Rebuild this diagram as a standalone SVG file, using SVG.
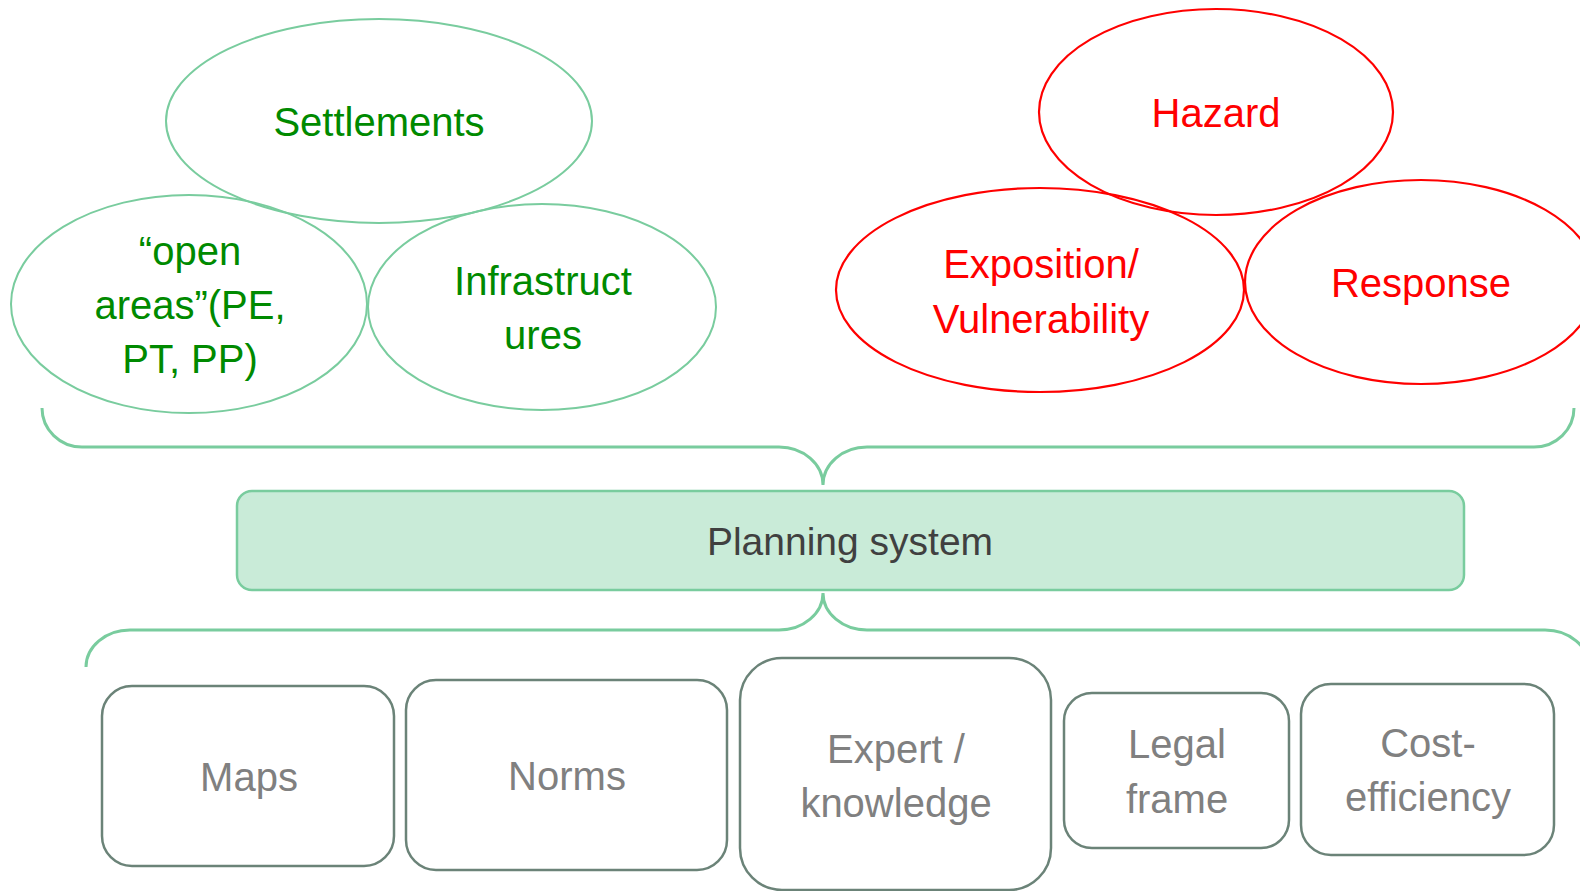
<svg xmlns="http://www.w3.org/2000/svg" width="1580" height="891" viewBox="0 0 1580 891">
<style>
.bg{fill:#ffffff}
.ge{fill:none;stroke:#79cc9e;stroke-width:2}
.re{fill:none;stroke:#ff0000;stroke-width:2.2}
.gt{font-family:"Liberation Sans",Arial,sans-serif;font-size:40px;fill:#008a00;text-anchor:middle}
.rt{font-family:"Liberation Sans",Arial,sans-serif;font-size:40px;fill:#ff0000;text-anchor:middle}
.bt{font-family:"Liberation Sans",Arial,sans-serif;font-size:40px;fill:#808080;text-anchor:middle}
.pt{font-family:"Liberation Sans",Arial,sans-serif;font-size:39px;fill:#404040;text-anchor:middle}
.box{fill:#ffffff;stroke:#6b8378;stroke-width:2.5}
.plan{fill:#c9ebd8;stroke:#79cc9e;stroke-width:2.5}
.br{fill:none;stroke:#79cc9e;stroke-width:3}
</style>
<rect class="bg" x="0" y="0" width="1580" height="891"/>
<g id="connectors">
<path class="br" d="M 42 408 A 40 39 0 0 0 82 447 L 779 447 A 44 38 0 0 1 823 485 A 44 38 0 0 1 867 447 L 1534 447 A 40 39 0 0 0 1574 408"/>
<path class="br" d="M 86 667 A 44 37 0 0 1 130 630 L 779 630 A 44 37 0 0 0 823 593 A 44 37 0 0 0 867 630 L 1545 630 A 44 37 0 0 1 1589 667"/>
</g>
<g id="settlements">
<ellipse class="ge" cx="379" cy="121" rx="213" ry="102"/>
<text class="gt" x="379" y="136">Settlements</text>
</g>
<g id="open-areas">
<ellipse class="ge" cx="189" cy="304" rx="178" ry="109"/>
<text class="gt" x="190" y="265">“open</text>
<text class="gt" x="190" y="319">areas”(PE,</text>
<text class="gt" x="190" y="373">PT, PP)</text>
</g>
<g id="infrastructures">
<ellipse class="ge" cx="542" cy="307" rx="174" ry="103"/>
<text class="gt" x="543" y="295">Infrastruct</text>
<text class="gt" x="543" y="349">ures</text>
</g>
<g id="hazard">
<ellipse class="re" cx="1216" cy="112" rx="177" ry="103"/>
<text class="rt" x="1216" y="127">Hazard</text>
</g>
<g id="exposition">
<ellipse class="re" cx="1040" cy="290" rx="204" ry="102"/>
<text class="rt" x="1041" y="278">Exposition/</text>
<text class="rt" x="1041" y="333">Vulnerability</text>
</g>
<g id="response">
<ellipse class="re" cx="1421" cy="282" rx="176" ry="102"/>
<text class="rt" x="1421" y="297">Response</text>
</g>
<g id="planning-system">
<rect class="plan" x="237" y="491" width="1227" height="99" rx="15"/>
<text class="pt" x="850" y="555">Planning system</text>
</g>
<g id="maps">
<rect class="box" x="102" y="686" width="292" height="180" rx="30"/>
<text class="bt" x="249" y="791">Maps</text>
</g>
<g id="norms">
<rect class="box" x="406" y="680" width="321" height="190" rx="30"/>
<text class="bt" x="567" y="790">Norms</text>
</g>
<g id="expert">
<rect class="box" x="740" y="658" width="311" height="232" rx="42"/>
<text class="bt" x="896" y="763">Expert /</text>
<text class="bt" x="896" y="817">knowledge</text>
</g>
<g id="legal">
<rect class="box" x="1064" y="693" width="225" height="155" rx="28"/>
<text class="bt" x="1177" y="758">Legal</text>
<text class="bt" x="1177" y="813">frame</text>
</g>
<g id="cost">
<rect class="box" x="1301" y="684" width="253" height="171" rx="30"/>
<text class="bt" x="1428" y="757">Cost-</text>
<text class="bt" x="1428" y="811">efficiency</text>
</g>
</svg>
